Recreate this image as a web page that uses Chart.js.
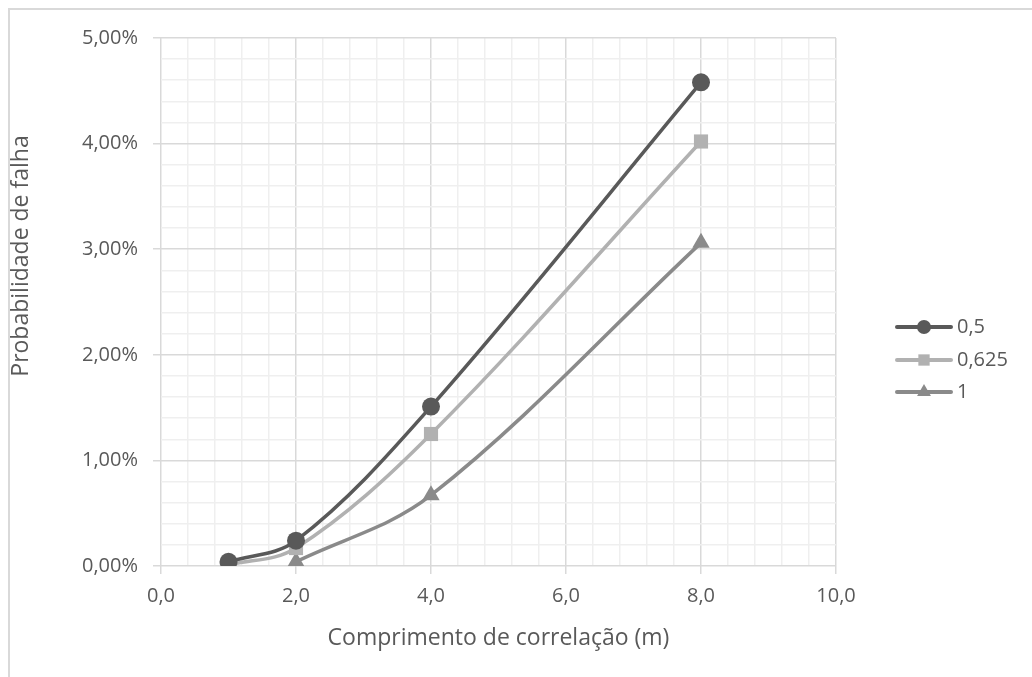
<!DOCTYPE html>
<html>
<head>
<meta charset="utf-8">
<script src="https://cdn.jsdelivr.net/npm/chart.js@4/dist/chart.umd.min.js"></script>
<style>
  html, body { margin: 0; padding: 0; background: #ffffff; }
  #wrap { width: 1032px; height: 677px; }
</style>
</head>
<body>
<div id="wrap"><canvas id="c" width="1032" height="677"></canvas></div>
<script>
// Correlation length (m) on the x axis
const lengths = [1, 2, 4, 8];
// Failure probability (%) for each series
const serieNames = ['0,5', '0,625', '1'];
const prob05 = [0.04, 0.24, 1.51, 4.58];
const prob0625 = [0.01, 0.17, 1.25, 4.02];
const prob1 = [null, 0.04, 0.67, 3.06];
// Axis ranges and label text
const xMin = 0, xMax = 10, xMajor = 2, xMinor = 0.4;
const yMin = 0, yMax = 5, yMajor = 1, yMinor = 0.2;
const xTitle = 'Comprimento de correlação (m)';
const yTitle = 'Probabilidade de falha';

const FONT = '"Open Sans", "Noto Sans", sans-serif';
const TEXT = '#595959';
const MAJOR = '#d9d9d9';
const MINOR = '#efefef';
const TITLE_SIZE = 23;

const isMajor = (v, step) => Math.abs(v / step - Math.round(v / step)) < 1e-6;
const toPoints = vals => lengths.map((x, i) => ({ x: x, y: vals[i] })).filter(p => p.y !== null);

const styles = [
  { color: '#595959', pointStyle: 'circle' },
  { color: '#b1b1b1', pointStyle: 'rect' },
  { color: '#8a8a8a', pointStyle: 'triangle' }
];
const seriesValues = [prob05, prob0625, prob1];

const datasets = seriesValues.map((vals, i) => ({
  label: serieNames[i],
  data: toPoints(vals),
  borderColor: styles[i].color,
  backgroundColor: styles[i].color,
  pointBackgroundColor: styles[i].color,
  pointBorderColor: styles[i].color,
  pointStyle: styles[i].pointStyle,
  pointRadius: styles[i].pointStyle === 'circle' ? 9 : 10,
  pointBorderWidth: 0,
  borderWidth: 3.5,
  tension: 0.35,
  fill: false
}));

// Outer frame of the chart object
const framePlugin = {
  id: 'frame',
  beforeDraw(chart) {
    const ctx = chart.ctx;
    ctx.save();
    ctx.fillStyle = '#ffffff';
    ctx.fillRect(0, 0, chart.width, chart.height);
    ctx.strokeStyle = '#d9d9d9';
    ctx.lineWidth = 2;
    ctx.beginPath();
    ctx.moveTo(9, chart.height);
    ctx.lineTo(9, 9);
    ctx.lineTo(chart.width, 9);
    ctx.stroke();
    ctx.restore();
  }
};

// Vertical axis title, placed beside the value labels
const yTitlePlugin = {
  id: 'yTitle',
  afterDraw(chart) {
    const ctx = chart.ctx;
    ctx.save();
    ctx.translate(21, 256);
    ctx.rotate(-Math.PI / 2);
    ctx.fillStyle = TEXT;
    ctx.font = TITLE_SIZE + 'px ' + FONT;
    ctx.textAlign = 'center';
    ctx.textBaseline = 'middle';
    ctx.fillText(yTitle, 0, 0);
    ctx.restore();
  }
};

// Legend on the right: line sample with marker, then the series name
const legendPlugin = {
  id: 'sideLegend',
  afterDraw(chart) {
    const ctx = chart.ctx;
    const x0 = 897, x1 = 951, tx = 957;
    const ys = [327, 360, 392];
    ctx.save();
    chart.data.datasets.forEach((ds, i) => {
      const y = ys[i];
      ctx.strokeStyle = ds.borderColor;
      ctx.lineWidth = 4;
      ctx.lineCap = 'round';
      ctx.beginPath();
      ctx.moveTo(x0, y);
      ctx.lineTo(x1, y);
      ctx.stroke();
      ctx.fillStyle = ds.pointBackgroundColor;
      ctx.strokeStyle = ds.pointBorderColor;
      Chart.helpers.drawPoint(ctx, {
        pointStyle: ds.pointStyle,
        radius: ds.pointStyle === 'circle' ? 7 : 8,
        rotation: 0,
        borderWidth: 0
      }, (x0 + x1) / 2, y);
      ctx.fillStyle = TEXT;
      ctx.font = '20px ' + FONT;
      ctx.textAlign = 'left';
      ctx.textBaseline = 'middle';
      ctx.fillText(ds.label, tx, y);
    });
    ctx.restore();
  }
};

new Chart(document.getElementById('c'), {
  type: 'line',
  data: { datasets: datasets },
  plugins: [framePlugin, legendPlugin, yTitlePlugin],
  options: {
    responsive: false,
    animation: false,
    devicePixelRatio: 1,
    layout: { padding: { left: 0, right: 196, top: 38, bottom: 0 } },
    plugins: { legend: { display: false }, tooltip: { enabled: false } },
    scales: {
      x: {
        type: 'linear',
        min: xMin, max: xMax,
        afterFit(scale) { scale.height = 111; },
        border: { display: false },
        grid: {
          color: c => isMajor(c.tick.value, xMajor) ? MAJOR : MINOR,
          tickColor: c => isMajor(c.tick.value, xMajor) ? MAJOR : 'rgba(0,0,0,0)',
          lineWidth: 1.5,
          tickLength: 8,
          drawTicks: true
        },
        ticks: {
          stepSize: xMinor,
          autoSkip: false,
          maxRotation: 0,
          padding: 10,
          color: TEXT,
          font: { family: FONT, size: 20 },
          callback: v => isMajor(v, xMajor) ? v.toFixed(1).replace('.', ',') : ''
        },
        title: {
          display: true,
          text: xTitle,
          color: TEXT,
          font: { family: FONT, size: TITLE_SIZE },
          padding: { top: 0, bottom: 25 }
        }
      },
      y: {
        type: 'linear',
        min: yMin, max: yMax,
        afterFit(scale) { scale.width = 161; },
        border: { display: false },
        grid: {
          color: c => isMajor(c.tick.value, yMajor) ? MAJOR : MINOR,
          tickColor: c => isMajor(c.tick.value, yMajor) ? MAJOR : 'rgba(0,0,0,0)',
          lineWidth: 1.5,
          tickLength: 8,
          drawTicks: true
        },
        ticks: {
          stepSize: yMinor,
          autoSkip: false,
          padding: 15,
          color: TEXT,
          font: { family: FONT, size: 20 },
          callback: v => isMajor(v, yMajor) ? v.toFixed(2).replace('.', ',') + '%' : ''
        },
        title: { display: false }
      }
    }
  }
});
</script>
</body>
</html>
